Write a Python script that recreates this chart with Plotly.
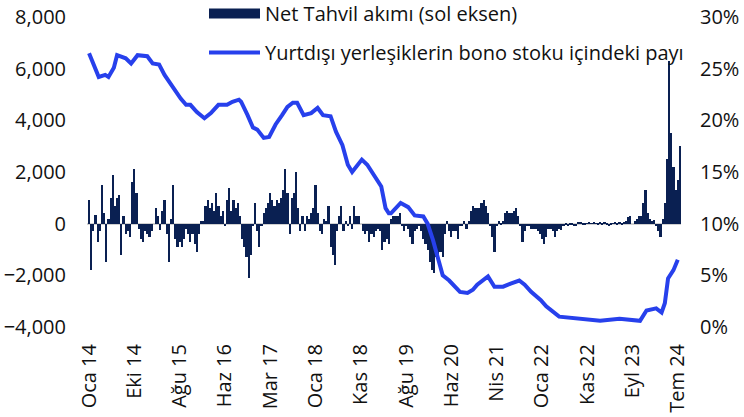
import plotly.graph_objects as go

# Net bond flow (USD mn), bi-weekly, starting Jan 2014
net_flow = [
    900, -1800, -300, 350, -700, -300, 1500, 400, -1500, 200,
    1000, 1900, 700, 1000, 1100, -1200, 300, -400, -300, -500,
    1600, 2100, 1200, -200, -600, -700, -300, -400, -500, -300,
    0, 600, 300, -250, 500, 900, -400, -1500, 200, 1500,
    -600, -900, -700, -900, -600, -200, -400, -700, -400, -800,
    -1100, -400, 100, 100, 700, 900, 600, 800, 500, 1200,
    700, 300, 500, -100, 900, 1400, 500, 900, 600, 800,
    300, -600, -900, -1300, -2100, -1200, -100, 800, -300, -900,
    -100, 400, 600, 800, 1200, 900, 700, 900, 800, 1000,
    1300, 2100, 1200, -400, 1000, 1200, 2000, 600, -300, 300,
    -300, 300, 200, 400, 600, 1500, 400, -300, -400, 200,
    100, 700, -900, -1200, -1600, -300, 300, 700, -300, 100,
    -100, 300, -200, 700, 300, 300, 0, -300, -400, -300,
    -700, -400, -500, -300, -200, -300, -1000, -700, -600, -800,
    200, 300, 300, 300, 400, -100, -300, -100, -200, -500,
    -800, -300, -200, -100, -300, -600, -800, -1000, -1500, -1800,
    -1900, -1300, -1500, -1100, -1300, -400, 100, -300, -500, -300,
    -300, -600, -100, -100, 100, -200, 100, 500, 700, 600,
    600, 600, 800, 900, 700, 400, -100, -500, -1100, -100,
    100, -50, 100, 400, 500, 400, 400, 500, 600, 300,
    -100, -700, -300, -100, -100, -200, -200, -200, -300, -400,
    -600, -800, -500, -200, -200, -300, -500, -300, -200, -250,
    -100, -50, -80, -50, -30, -80, -100, 30, 50, -30,
    -60, 20, 30, 20, 60, 20, -30, 40, -40, 30,
    -40, -100, -60, 20, 30, -20, 60, -20, 30, 100,
    250, 300, 0, 100, 200, 300, 300, 800, 1300, 400,
    200, 100, 150, -100, -300, -500, 200, 800, 2500, 6300,
    3500, 2200, 1300, 1700, 3000,
]
flow_weeks = [2 * i for i in range(len(net_flow))]

# Foreign residents' share in bond stock (%), week index from Jan 2014
share_weeks = [0, 9, 15, 18, 23, 26, 34, 39, 45, 54, 59, 65, 70, 77, 85, 90, 94,
               100, 107, 113, 120, 128, 133, 139, 141, 147, 152, 156, 162, 167,
               173, 179, 184, 189, 193, 199, 206, 212, 217, 224, 229, 235, 240,
               244, 247, 253, 258, 266, 271, 275, 278, 280, 289, 296, 302, 310,
               314, 319, 323, 328, 334, 344, 351, 356, 360, 370, 376, 384, 391,
               399, 404, 410, 419, 424, 436, 452, 474, 492, 511, 517, 526, 531,
               534, 537, 542, 546]
share_vals = [26.5, 24.2, 24.4, 24.2, 25.1, 26.3, 26.0, 25.5, 26.3, 26.2, 25.5,
              25.4, 24.4, 23.3, 22.1, 21.5, 21.5, 20.8, 20.2, 20.7, 21.5, 21.5,
              21.8, 22.0, 21.8, 20.5, 19.3, 19.1, 18.3, 18.4, 19.6, 20.5, 21.3,
              21.7, 21.7, 20.5, 20.7, 21.2, 20.5, 20.4, 18.9, 17.6, 15.7, 15.0,
              15.4, 16.2, 15.7, 14.5, 13.6, 11.5, 11.0, 11.0, 12.0, 11.6, 10.8,
              10.7, 10.0, 8.4, 6.8, 5.0, 4.5, 3.4, 3.3, 3.6, 4.1, 4.9, 3.9, 3.9,
              4.2, 4.5, 4.1, 3.4, 2.6, 2.0, 1.0, 0.8, 0.6, 0.8, 0.6, 1.6, 1.8,
              1.4, 2.3, 4.7, 5.5, 6.5]

tick_weeks = [42 * i for i in range(14)]
tick_labels = ["Oca 14", "Eki 14", "Ağu 15", "Haz 16", "Mar 17", "Oca 18", "Kas 18",
               "Ağu 19", "Haz 20", "Nis 21", "Oca 22", "Kas 22", "Eyl 23", "Tem 24"]
left_ticks = [-4000, -2000, 0, 2000, 4000, 6000, 8000]
right_ticks = [0, 5, 10, 15, 20, 25, 30]
right_labels = [f"{v}%" for v in right_ticks]

NAVY = "#0A2052"
BLUE = "#2740EC"
FONT = "Open Sans"

fig = go.Figure()
fig.add_trace(go.Bar(x=flow_weeks, y=net_flow, width=2, marker=dict(color=NAVY, line=dict(width=0)),
                     showlegend=False, yaxis="y"))
# legend proxy for bars
fig.add_trace(go.Scatter(x=[None], y=[None], mode="lines", line=dict(color=NAVY, width=11),
                         name="Net Tahvil akımı (sol eksen)", legendgroup="a"))
fig.add_trace(go.Scatter(x=share_weeks, y=share_vals, mode="lines", line=dict(color=BLUE, width=4),
                         name="Yurtdışı yerleşiklerin bono stoku içindeki payı", yaxis="y2",
                         legendgroup="b"))

fig.update_layout(
    width=744, height=417,
    margin=dict(l=87, r=63, t=17, b=90, autoexpand=False),
    paper_bgcolor="white", plot_bgcolor="white",
    font=dict(family=FONT, size=20, color="#111111"),
    bargap=0,
    showlegend=True,
    legend=dict(xref="paper", yref="paper", x=(204 - 87) / 594, y=1.074, xanchor="left",
                yanchor="top", bgcolor="rgba(0,0,0,0)",
                itemwidth=51, tracegroupgap=10, font=dict(size=20)),
    xaxis=dict(range=[-1.9, 549], tickmode="array", tickvals=tick_weeks, ticktext=tick_labels,
               tickangle=-90, showgrid=False, showline=False, zeroline=False, ticks="",
               ticklabelstandoff=12),
    yaxis=dict(range=[-4000, 8000], tickvals=left_ticks,
               tickformat=",d", showgrid=False, zeroline=True, zerolinecolor="#D0D0D0",
               zerolinewidth=2, showline=False, ticks="", ticklabelstandoff=20),
    yaxis2=dict(range=[0, 30], overlaying="y", side="right", tickmode="array",
                tickvals=right_ticks, ticktext=right_labels,
                showgrid=False, zeroline=False, showline=False, ticks="",
                ticklabelstandoff=18),
)

fig.write_html("out.html", config={"displayModeBar": False},
               post_script="document.body.style.margin='0px';")
